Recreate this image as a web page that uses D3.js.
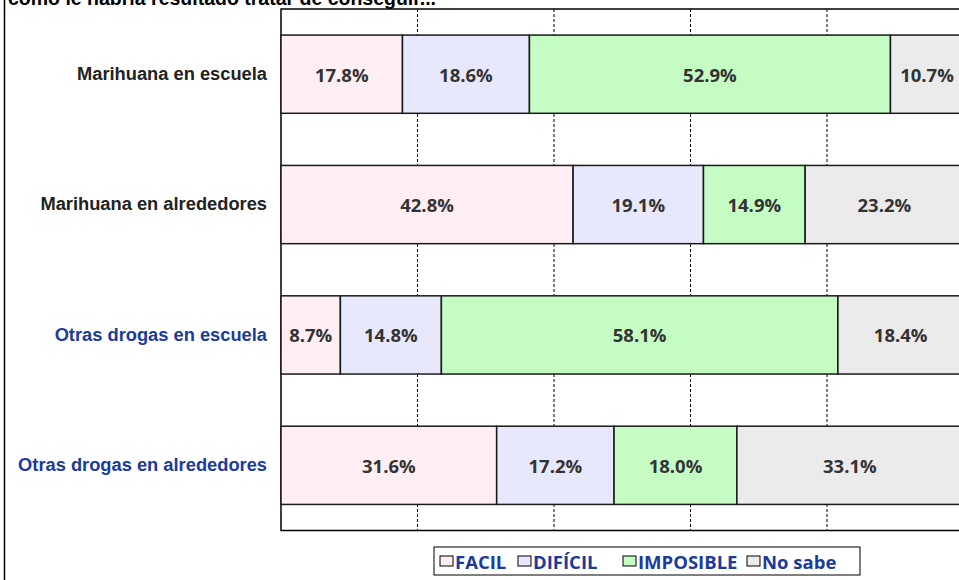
<!DOCTYPE html>
<html><head><meta charset="utf-8">
<script src="https://cdn.jsdelivr.net/npm/d3@7"></script>
<style>body{margin:0;background:#fff}svg{display:block}</style>
</head><body>
<svg id="c" width="959" height="580"></svg>
<script>
const titleText = "como le habría resultado tratar de conseguir...";
const categories = ["Marihuana en escuela","Marihuana en alrededores","Otras drogas en escuela","Otras drogas en alrededores"];
const seriesNames = ["FACIL","DIFÍCIL","IMPOSIBLE","No sabe"];
const facil = [17.8, 42.8, 8.7, 31.6];
const dificil = [18.6, 19.1, 14.8, 17.2];
const imposible = [52.9, 14.9, 58.1, 18.0];
const noSabe = [10.7, 23.2, 18.4, 33.1];
const xTicks = [0,20,40,60,80,100];
const colors = ["#FFEEF3","#E8E8FC","#C4FCC4","#EBEBEB"];
const labelColors = ["#222","#222","#1a3aa0","#1a3aa0"];

const svg = d3.select("#c");
const m = {left:281, right:963.5, top:9, bottom:530.5};
const x = d3.scaleLinear().domain([0,100]).range([m.left,m.right]);
const y = d3.scaleBand().domain(categories).range([m.top,m.bottom]).paddingInner(0.4).paddingOuter(0.2);

// outer frame left line
svg.append("line").attr("x1",4.5).attr("x2",4.5).attr("y1",0).attr("y2",580).attr("stroke","#000").attr("stroke-width",1.5);

// plot frame
svg.append("rect").attr("x",m.left).attr("y",m.top).attr("width",m.right-m.left).attr("height",m.bottom-m.top)
  .attr("fill","#fff").attr("stroke","#000").attr("stroke-width",1.5);

// title (cut at the top as in the original)
svg.append("text").attr("x",8).attr("y",5).attr("font-family","Liberation Sans, Arial, sans-serif")
  .attr("font-weight","bold").attr("font-size",19.5).attr("fill","#000").text(titleText);

// grid
svg.append("g").selectAll("line").data(xTicks.slice(1,-1)).join("line")
  .attr("x1",d=>x(d)).attr("x2",d=>x(d)).attr("y1",m.top).attr("y2",m.bottom)
  .attr("stroke","#000").attr("stroke-width",1).attr("stroke-dasharray","3,2");

const series = [facil,dificil,imposible,noSabe];
const rows = categories.map((c,i)=>{
  let acc=0;
  return series.map((s,j)=>{const v=s[i]; const r={cat:c,j,v,x0:acc,x1:acc+v}; acc+=v; return r;});
});
const segs = rows.flat();

svg.append("g").selectAll("rect").data(segs).join("rect")
  .attr("x",d=>x(d.x0)).attr("y",d=>y(d.cat)).attr("width",d=>x(d.x1)-x(d.x0)).attr("height",y.bandwidth())
  .attr("fill",d=>colors[d.j]).attr("stroke","#1a1a1a").attr("stroke-width",1.5);

svg.append("g").selectAll("text").data(segs).join("text")
  .attr("x",d=>(x(d.x0)+x(d.x1))/2).attr("y",d=>y(d.cat)+y.bandwidth()/2)
  .attr("text-anchor","middle").attr("dominant-baseline","central")
  .attr("font-family","Open Sans, sans-serif").attr("font-weight","bold").attr("font-size",18.5)
  .attr("fill","#333").text(d=>d.v.toFixed(1)+"%");

// category labels
const yAxis = d3.axisLeft(y).tickSize(0).tickPadding(14);
const ga = svg.append("g").attr("transform",`translate(${m.left},0)`).call(yAxis);
ga.select(".domain").remove();
ga.selectAll("text").attr("font-family","Liberation Sans, Arial, sans-serif").attr("font-weight","bold")
  .attr("font-size",18.3).attr("fill",(d,i)=>labelColors[i]);

// legend
const lg = svg.append("g");
lg.append("rect").attr("x",434).attr("y",547).attr("width",426).attr("height",28).attr("fill","#fff").attr("stroke","#000").attr("stroke-width",1);
const lx = [440, 518, 623, 747];
seriesNames.forEach((n,i)=>{
  lg.append("rect").attr("x",lx[i]).attr("y",556).attr("width",13).attr("height",10).attr("fill",colors[i]).attr("stroke","#000").attr("stroke-width",1);
  lg.append("text").attr("x",lx[i]+15).attr("y",561.5).attr("dominant-baseline","central")
    .attr("font-family","Open Sans, sans-serif").attr("font-weight","bold").attr("font-size",18.5).attr("fill","#1a3aa0").text(n);
});
</script>
</body></html>
